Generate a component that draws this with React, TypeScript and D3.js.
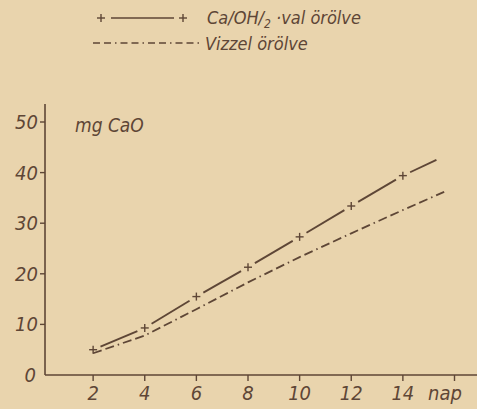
import React from 'react';
import * as d3 from 'd3';

// napok (days) and mg CaO values
const caDays = [2, 4, 6, 8, 10, 12, 14];
const caValues = [5.0, 9.3, 15.5, 21.3, 27.3, 33.4, 39.4];
const caTail = { day: 15.3, value: 42.5 }; // line runs on past the last mark

const waterDays = [2, 4, 6, 8, 10, 12, 14, 15.6];
const waterValues = [4.3, 7.8, 13.0, 18.3, 23.3, 28.0, 32.6, 36.2];

const xTicks = [2, 4, 6, 8, 10, 12, 14, 16];
const yTicks = [0, 10, 20, 30, 40, 50];

const W = 477;
const H = 409;
const INK = '#5e4636';
const PAPER = '#e9d4ad';
const FONT = "'Liberation Sans Narrow', 'DejaVu Sans Condensed', sans-serif";

export default function App() {
  const x = d3.scaleLinear().domain([0, 16]).range([41.5, 454.5]);
  const y = d3.scaleLinear().domain([0, 50]).range([375, 122]);
  const x0 = 45;

  const caPts = caDays.map((d, i) => [x(d), y(caValues[i])] as [number, number]);
  caPts.push([x(caTail.day), y(caTail.value)]);

  // solid segments broken around each + mark
  const gap = 8;
  const segs = caPts.slice(1).map((p, i) => {
    const a = caPts[i];
    const dx = p[0] - a[0];
    const dy = p[1] - a[1];
    const len = Math.hypot(dx, dy);
    const ux = dx / len;
    const uy = dy / len;
    const endGap = i === caPts.length - 2 ? 0 : gap;
    return [a[0] + ux * gap, a[1] + uy * gap, p[0] - ux * endGap, p[1] - uy * endGap];
  });

  const line = d3.line();
  const waterPath = line(waterDays.map((d, i) => [x(d), y(waterValues[i])] as [number, number]));

  const plus = (cx: number, cy: number, k: string) => (
    <g key={k} stroke={INK} strokeWidth={1.4}>
      <line x1={cx - 4} x2={cx + 4} y1={cy} y2={cy} />
      <line x1={cx} x2={cx} y1={cy - 4} y2={cy + 4} />
    </g>
  );

  return (
    <svg width={W} height={H} style={{ position: 'absolute', left: 0, top: 0, background: PAPER }}
      fontFamily={FONT} fontStyle="italic" fill={INK}>
      <rect width={W} height={H} fill={PAPER} />

      {/* legend */}
      {plus(101, 18, 'lp1')}
      <line x1={111} x2={174} y1={18} y2={18} stroke={INK} strokeWidth={1.6} />
      {plus(183, 18, 'lp2')}
      <text x={207} y={24} fontSize={18}>
        Ca/OH/<tspan fontSize={12} dy={4}>2</tspan><tspan dy={-4}> ·val örölve</tspan>
      </text>
      <line x1={93} x2={200} y1={43} y2={43} stroke={INK} strokeWidth={1.6}
        strokeDasharray="7,4,7,4,1.5,4" />
      <text x={205} y={50} fontSize={18}>Vizzel örölve</text>

      {/* axes */}
      <line x1={x0} x2={x0} y1={375} y2={104} stroke={INK} strokeWidth={1.6} />
      <line x1={x0} x2={W} y1={375} y2={375} stroke={INK} strokeWidth={1.6} />
      {yTicks.filter((t) => t > 0).map((t) => (
        <line key={'yt' + t} x1={x0 - 5} x2={x0} y1={y(t)} y2={y(t)} stroke={INK} strokeWidth={1.4} />
      ))}
      {yTicks.map((t) => (
        <text key={'yl' + t} x={t === 0 ? 36 : 38} y={y(t) + 7} fontSize={20} textAnchor="end">{t}</text>
      ))}
      {xTicks.map((t) => (
        <line key={'xt' + t} x1={x(t)} x2={x(t)} y1={375} y2={381} stroke={INK} strokeWidth={1.4} />
      ))}
      {xTicks.filter((t) => t < 16).map((t) => (
        <text key={'xl' + t} x={x(t)} y={400} fontSize={20} textAnchor="middle">{t}</text>
      ))}
      <text x={445} y={400} fontSize={20} textAnchor="middle">nap</text>
      <text x={75} y={132} fontSize={19}>mg CaO</text>

      {/* Vizzel örölve */}
      <path d={waterPath ?? ''} fill="none" stroke={INK} strokeWidth={1.8}
        strokeDasharray="9,4,9,4,1.5,4" />

      {/* Ca(OH)2-val örölve */}
      {segs.map((s, i) => (
        <line key={'s' + i} x1={s[0]} y1={s[1]} x2={s[2]} y2={s[3]} stroke={INK} strokeWidth={1.9} />
      ))}
      {caDays.map((d, i) => plus(x(d), y(caValues[i]), 'm' + i))}
    </svg>
  );
}
